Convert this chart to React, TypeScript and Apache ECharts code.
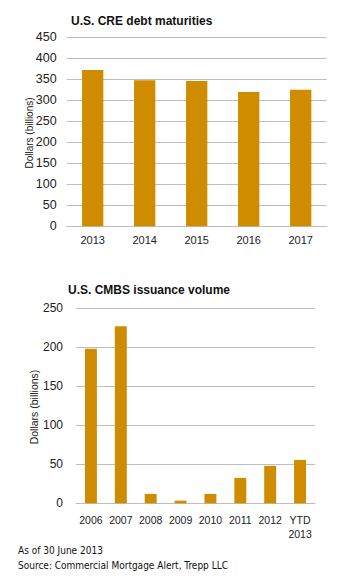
import React, { useEffect, useRef } from "react";
import * as echarts from "echarts";

const creYears = ["2013", "2014", "2015", "2016", "2017"];
const creValues = [372, 348, 346, 320, 325];

const cmbsYears = ["2006", "2007", "2008", "2009", "2010", "2011", "2012", "YTD\n2013"];
const cmbsValues = [198, 227, 12, 3.4, 12, 32.5, 48, 55.6];

const topTitle = "U.S. CRE debt maturities";
const bottomTitle = "U.S. CMBS issuance volume";
const yName = "Dollars (billions)";
const footer1 = "As of 30 June 2013";
const footer2 = "Source: Commercial Mortgage Alert, Trepp LLC";

const GOLD = "#CF8C00";
const GRID = "#BFBFBF";
const FONT = "'Liberation Sans', Arial, sans-serif";
const NARROW = "'Liberation Sans Narrow', 'DejaVu Sans Condensed', sans-serif";

export default function App() {
  const ref = useRef<HTMLDivElement>(null);
  useEffect(() => {
    if (!ref.current) return;
    const chart = echarts.init(ref.current, null, { renderer: "svg" });
    chart.setOption({
      animation: false,
      backgroundColor: "#ffffff",
      textStyle: { fontFamily: FONT },
      grid: [
        { left: 66.7, width: 260, top: 37.3, height: 189, containLabel: false },
        { left: 76, width: 239, top: 308.3, height: 195, containLabel: false },
      ],
      xAxis: [
        {
          type: "category",
          gridIndex: 0,
          data: creYears,
          axisLine: { show: true, lineStyle: { color: GRID, width: 1 } },
          axisTick: { show: false },
          axisLabel: { color: "#222", fontSize: 11, margin: 8, fontFamily: FONT },
        },
        {
          type: "category",
          gridIndex: 1,
          data: cmbsYears,
          axisLine: { show: true, lineStyle: { color: GRID, width: 1 } },
          axisTick: { show: false },
          axisLabel: { color: "#222", fontSize: 10.5, margin: 10, lineHeight: 14, fontFamily: FONT, interval: 0 },
        },
      ],
      yAxis: [
        {
          type: "value",
          gridIndex: 0,
          min: 0,
          max: 450,
          interval: 50,
          axisLine: { show: false },
          axisTick: { show: false },
          axisLabel: { color: "#222", fontSize: 12.5, margin: 10, fontFamily: FONT },
          splitLine: { lineStyle: { color: GRID, width: 1 } },
        },
        {
          type: "value",
          gridIndex: 1,
          min: 0,
          max: 250,
          interval: 50,
          axisLine: { show: false },
          axisTick: { show: false },
          axisLabel: { color: "#222", fontSize: 12, margin: 13, fontFamily: FONT },
          splitLine: { lineStyle: { color: GRID, width: 1 } },
        },
      ],
      series: [
        {
          type: "bar",
          xAxisIndex: 0,
          yAxisIndex: 0,
          data: creValues,
          barWidth: "41%",
          itemStyle: { color: GOLD },
        },
        {
          type: "bar",
          xAxisIndex: 1,
          yAxisIndex: 1,
          data: cmbsValues,
          barWidth: "40%",
          itemStyle: { color: GOLD },
        },
      ],
      graphic: [
        {
          type: "text",
          left: 71,
          top: 15,
          style: { text: topTitle, fontSize: 12, fontWeight: "bold", fill: "#111", fontFamily: FONT },
        },
        {
          type: "text",
          left: 68,
          top: 284,
          style: { text: bottomTitle, fontSize: 12, fontWeight: "bold", fill: "#111", fontFamily: FONT },
        },
        {
          type: "text",
          x: 29.5,
          y: 133,
          rotation: Math.PI / 2,
          style: { text: yName, fontSize: 10, fill: "#222", fontFamily: FONT, align: "center", verticalAlign: "middle" },
        },
        {
          type: "text",
          x: 33.5,
          y: 407,
          rotation: Math.PI / 2,
          style: { text: yName, fontSize: 10.5, fill: "#222", fontFamily: FONT, align: "center", verticalAlign: "middle" },
        },
        {
          type: "text",
          left: 18,
          top: 545,
          style: { text: footer1, fontSize: 10, fill: "#111", fontFamily: NARROW },
        },
        {
          type: "text",
          left: 18,
          top: 560,
          style: { text: footer2, fontSize: 10, fill: "#111", fontFamily: NARROW },
        },
      ],
    });
    return () => chart.dispose();
  }, []);
  return (
    <div
      ref={ref}
      style={{ position: "fixed", left: 0, top: 0, width: 362, height: 578 }}
    />
  );
}
